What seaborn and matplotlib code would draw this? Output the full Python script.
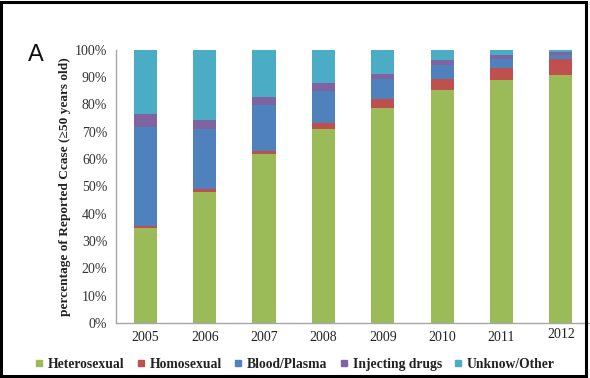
import matplotlib
matplotlib.use("Agg")
import matplotlib.pyplot as plt
from matplotlib.lines import Line2D
from matplotlib.patches import Rectangle
import numpy as np
import pandas as pd
import seaborn as sns

years = ['2005', '2006', '2007', '2008', '2009', '2010', '2011', '2012']
routes = ['Heterosexual', 'Homosexual', 'Blood/Plasma', 'Injecting drugs', 'Unknow/Other']

# percentages
hetero = [34.7, 47.9, 61.9, 71.0, 78.7, 85.4, 88.9, 90.8]
homo = [0.6, 1.0, 1.0, 2.3, 3.4, 4.1, 4.3, 5.7]
blood = [36.4, 22.1, 16.8, 11.5, 7.1, 4.9, 3.6, 1.6]
drugs = [4.7, 3.3, 3.0, 3.0, 2.0, 1.8, 1.3, 1.3]
other = [23.6, 25.7, 17.3, 12.2, 8.8, 3.8, 1.9, 0.6]

colors = ['#9BBB59', '#C0504D', '#4F81BD', '#8064A2', '#4BACC6']

df = pd.DataFrame({'year': years, 'Heterosexual': hetero, 'Homosexual': homo,
                   'Blood/Plasma': blood, 'Injecting drugs': drugs, 'Unknow/Other': other})
cum = df[routes].cumsum(axis=1)
cum['year'] = df['year']

sns.set_style('white')
plt.rcParams['font.family'] = ['Liberation Serif', 'DejaVu Serif']

fig = plt.figure(figsize=(5.9, 3.78), dpi=100)
ax = fig.add_axes([0.196, 0.146, 0.805, 0.722])

# stacked bars: draw cumulative totals from top down
for r, c in zip(routes[::-1], colors[::-1]):
    sns.barplot(data=cum, x='year', y=r, order=years, color=c, width=0.39,
                saturation=1, ax=ax, linewidth=0)

ax.set_ylim(0, 100)
ax.set_xlim(-0.5, 7.5)
ax.set_yticks(np.arange(0, 101, 10))
ax.set_yticklabels([f'{v}%' for v in range(0, 101, 10)], fontsize=10, color='#333333')
ax.set_xticks(range(len(years)))
ax.set_xticklabels(years, fontsize=10, color='#222222')
ax.set_xticks(np.arange(0.5, 7.5, 1), minor=True)
ax.tick_params(axis='x', which='major', length=0, pad=6)
ax.tick_params(axis='x', which='minor', length=3, color='#999999', direction='out')
ax.tick_params(axis='y', length=4, color='#999999', direction='out', pad=2)
ax.set_xlabel('')
ax.set_ylabel('percentage of Reported Ccase (\u226550 years old)', fontsize=9.6,
              fontweight='bold', color='#222222', labelpad=3)

for s in ['top', 'right']:
    ax.spines[s].set_visible(False)
for s in ['left', 'bottom']:
    ax.spines[s].set_color('#A6A6A6')
    ax.spines[s].set_linewidth(1)

# 2012 label sits a little higher in the original
ax.get_xticklabels()[-1].set_y(0.011)

fig.text(0.047, 0.838, 'A', fontsize=17, family=['Liberation Sans', 'DejaVu Sans'], color='#111111')

handles = [Line2D([0], [0], marker='s', linestyle='', markersize=4.5,
                  markerfacecolor=c, markeredgecolor=c) for c in colors]
leg = fig.legend(handles, routes, loc='center left', bbox_to_anchor=(0.05, 0.036), ncol=5,
                 frameon=False, handlelength=0.6, handletextpad=0.35, columnspacing=0.9,
                 prop={'family': 'Liberation Serif', 'weight': 'bold', 'size': 9.8},
                 labelcolor='#222222', borderaxespad=0)

fig.patches.append(Rectangle((0.002, 0.004), 0.992, 0.992, transform=fig.transFigure,
                             fill=False, edgecolor='black', linewidth=2.2, zorder=10))

fig.savefig('out.png', dpi=100)
